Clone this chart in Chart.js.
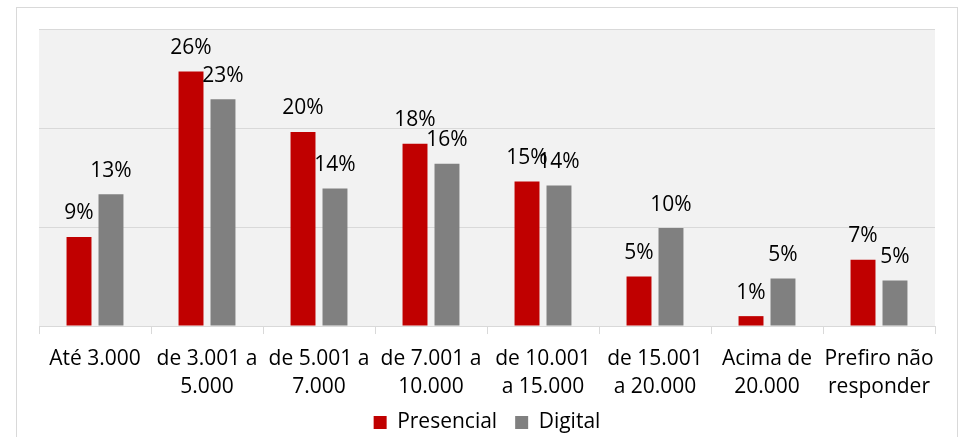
<!DOCTYPE html>
<html>
<head>
<meta charset="utf-8">
<script src="https://cdn.jsdelivr.net/npm/chart.js@4"></script>
<style>
  html, body { margin: 0; padding: 0; background: #fff; }
  #wrap { position: relative; width: 960px; height: 437px; }
</style>
</head>
<body>
<div id="wrap"><canvas id="incomeChart"></canvas></div>
<script>
// Categories (income ranges) and series values in %
const categories = [
  ["Até 3.000"],
  ["de 3.001 a", "5.000"],
  ["de 5.001 a", "7.000"],
  ["de 7.001 a", "10.000"],
  ["de 10.001", "a 15.000"],
  ["de 15.001", "a 20.000"],
  ["Acima de", "20.000"],
  ["Prefiro não", "responder"]
];
const presencial = [9.0, 25.7, 19.6, 18.4, 14.6, 5.0, 1.0, 6.7];
const digital = [13.3, 22.9, 13.9, 16.4, 14.2, 9.9, 4.8, 4.6];
const yTicks = [0, 10, 20, 30];

const FONT = "'Open Sans', 'Noto Sans', sans-serif";

// White page, outer frame and grey plot background
const backgroundPlugin = {
  id: "background",
  beforeDraw(chart) {
    // let the two-line category labels run into the legend gap without clipping
    chart.scales.x._computeLabelArea = () => undefined;
    const ctx = chart.ctx;
    const a = chart.chartArea;
    ctx.save();
    ctx.fillStyle = "#ffffff";
    ctx.fillRect(0, 0, chart.width, chart.height);
    ctx.strokeStyle = "#d9d9d9";
    ctx.lineWidth = 1;
    ctx.strokeRect(16.5, 7.5, 941, 440);
    ctx.fillStyle = "#f2f2f2";
    ctx.fillRect(a.left, a.top, a.right - a.left, a.bottom - a.top);
    ctx.restore();
  }
};

// Value labels above every bar
const valueLabels = {
  id: "valueLabels",
  afterDatasetsDraw(chart) {
    const ctx = chart.ctx;
    ctx.save();
    ctx.font = "21px " + FONT;
    ctx.fillStyle = "#000";
    ctx.textAlign = "center";
    ctx.textBaseline = "alphabetic";
    chart.data.datasets.forEach((ds, i) => {
      chart.getDatasetMeta(i).data.forEach((bar, j) => {
        ctx.fillText(Math.round(ds.data[j]) + "%", bar.x, bar.y - 17.5);
      });
    });
    ctx.restore();
  }
};

const ctx = document.getElementById("incomeChart").getContext("2d");

new Chart(ctx, {
  type: "bar",
  data: {
    labels: categories,
    datasets: [
      {
        label: "Presencial",
        data: presencial,
        backgroundColor: "#c00000",
        categoryPercentage: 0.571,
        barPercentage: 0.78
      },
      {
        label: "Digital",
        data: digital,
        backgroundColor: "#808080",
        categoryPercentage: 0.571,
        barPercentage: 0.78
      }
    ]
  },
  options: {
    responsive: true,
    maintainAspectRatio: false,
    animation: false,
    layout: {
      padding: { left: 39, right: 25, top: 29, bottom: -6 }
    },
    scales: {
      x: {
        grid: {
          drawOnChartArea: false,
          tickLength: 8,
          color: "#d9d9d9"
        },
        border: { color: "#d9d9d9" },
        ticks: {
          maxRotation: 0,
          autoSkip: false,
          color: "#000",
          padding: 10,
          font: { family: FONT, size: 21, lineHeight: 1.38 }
        },
        afterFit: (scale) => {
          scale.height -= 18;
        }
      },
      y: {
        min: yTicks[0],
        max: yTicks[yTicks.length - 1],
        afterBuildTicks: (scale) => {
          scale.ticks = yTicks.map((v) => ({ value: v }));
        },
        ticks: { display: false },
        grid: { color: "#d9d9d9", drawTicks: false },
        border: { display: false }
      }
    },
    plugins: {
      legend: {
        position: "bottom",
        labels: {
          boxWidth: 13,
          boxHeight: 13,
          padding: 18,
          color: "#000",
          font: { family: FONT, size: 21 }
        }
      },
      tooltip: { enabled: false }
    }
  },
  plugins: [backgroundPlugin, valueLabels]
});
</script>
</body>
</html>
